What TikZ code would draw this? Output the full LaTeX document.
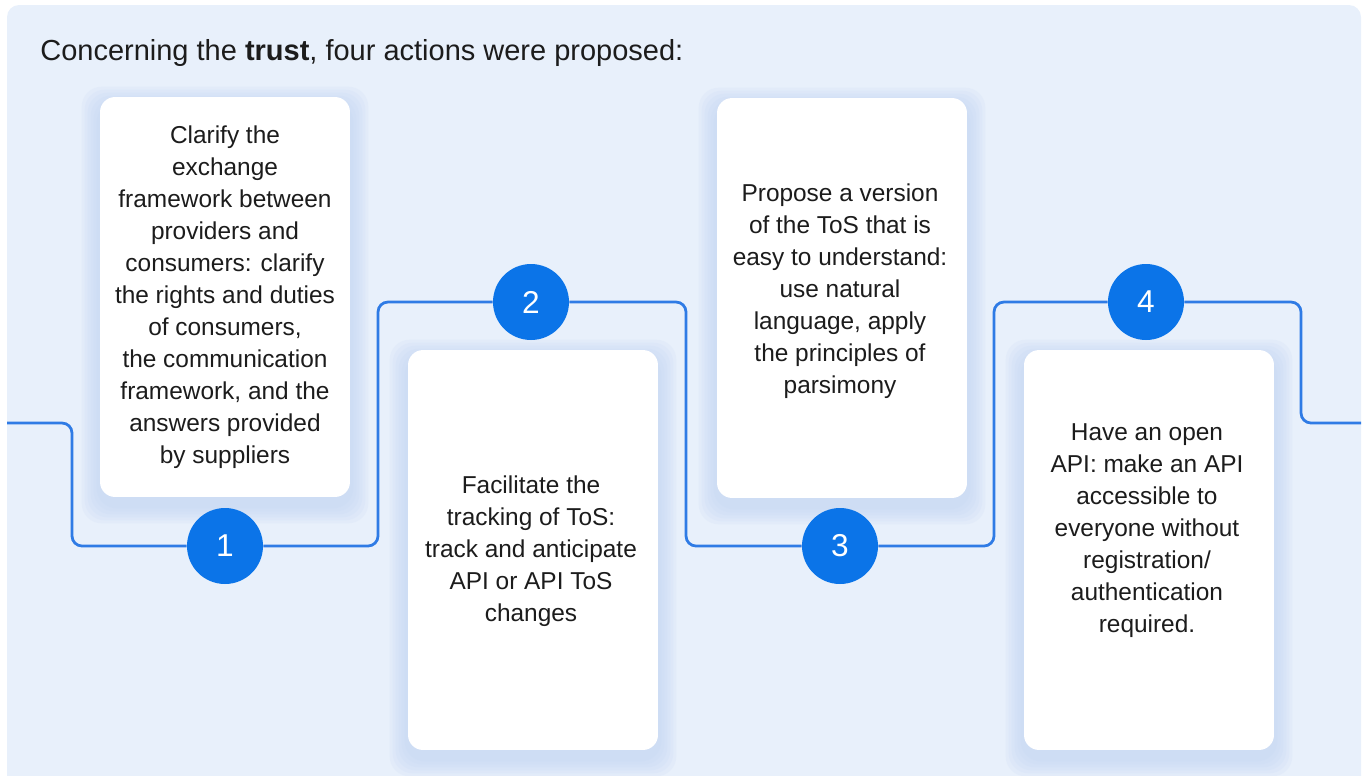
\documentclass[tikz,border=0pt]{standalone}
\usepackage{fontspec}
\setmainfont{Liberation Sans}
\usetikzlibrary{backgrounds,calc}
\definecolor{panel}{HTML}{E8F0FB}
\definecolor{flow}{HTML}{2F7BE5}
\definecolor{dot}{HTML}{0B74E8}
\definecolor{glow}{HTML}{C3D6F4}
\definecolor{ink}{HTML}{1C1C1C}
\tikzset{
	card/.style = {fill = white, rounded corners = 0.3cm, minimum width = 5cm, minimum height = 8cm, inner sep = 0},
	cardtext/.style = {align = center, text = ink, inner sep = 0, font = \fontsize{13.9}{18.2}\selectfont},
	num/.style = {circle, fill = dot, minimum size = 1.52cm, inner sep = 0, text = white, font = \fontsize{18}{18}\selectfont},
	flowline/.style = {flow, line width = 0.055cm, rounded corners = 0.2cm}
}
\begin{document}
\begin{tikzpicture}[x = 0.02cm, y = -0.02cm]
	\useasboundingbox (0,0) rectangle (1370,775);
	\node [anchor = base west, text = ink, inner sep = 0, font = \fontsize{16.5}{20}\selectfont] (title) at (40,60) {Concerning the \textbf{trust}, four actions were proposed:};
	% cards
	\node [card] (b1) at (225,297) {};
	\node [card] (b2) at (533,550) {};
	\node [card] (b3) at (842,298) {};
	\node [card] (b4) at (1149,550) {};
	\node [cardtext] (t1) at (225,297) {Clarify the\\exchange\\framework between\\providers and\\consumers: clarify\\the rights and duties\\of consumers,\\the communication\\framework, and the\\answers provided\\by suppliers};
	\node [cardtext] (t2) at (531,551) {Facilitate the\\tracking of ToS:\\track and anticipate\\API or API ToS\\changes};
	\node [cardtext] (t3) at (840,291) {Propose a version\\of the ToS that is\\easy to understand:\\use natural\\language, apply\\the principles of\\parsimony};
	\node [cardtext] (t4) at (1147,531) {Have an open\\API: make an API\\accessible to\\everyone without\\registration/\\authentication\\required.};
	% numbered dots
	\node [num] (c1) at (225,546) {1};
	\node [num] (c2) at (531,302) {2};
	\node [num] (c3) at (840,546) {3};
	\node [num] (c4) at (1146,302) {4};
	\coordinate (in) at (7,423);
	\coordinate (k0) at (72,423);
	\coordinate (k1) at (378,423);
	\coordinate (k2) at (686,423);
	\coordinate (k3) at (994,423);
	\coordinate (k4) at (1301,423);
	\coordinate (out) at (1361,423);
	\begin{scope}[on background layer]
	\fill [panel, rounded corners = 0.24cm] (7,5) rectangle (1361,800);
	\foreach \b in {b1,b2,b3,b4}
		\foreach \r in {3,6,...,18}
			\fill [glow, opacity = 0.16, rounded corners = 0.4cm] ($(\b.north west)+(-\r,-\r+8)$) rectangle ($(\b.south east)+(\r,\r+8)$);
	\draw [flowline] (in) -- (k0) |- (c1.west);
	\draw [flowline] (c1.east) -| (k1) |- (c2.west);
	\draw [flowline] (c2.east) -| (k2) |- (c3.west);
	\draw [flowline] (c3.east) -| (k3) |- (c4.west);
	\draw [flowline] (c4.east) -| (k4) -- (out);
	\end{scope}
\end{tikzpicture}
\end{document}
